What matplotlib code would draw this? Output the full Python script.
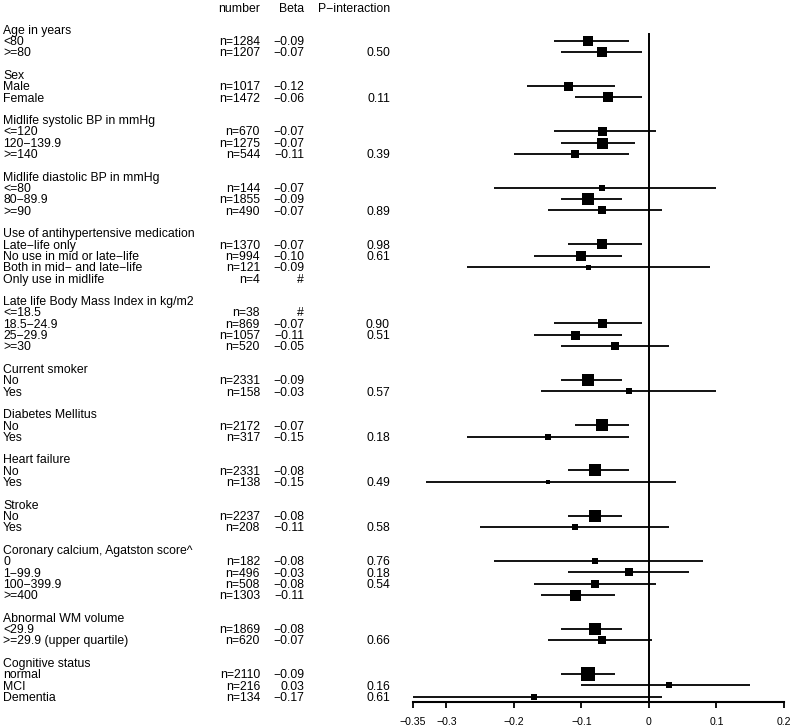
import matplotlib
matplotlib.use("Agg")
import matplotlib.pyplot as plt
from matplotlib import transforms

plt.rcParams['font.family'] = ['Liberation Sans', 'DejaVu Sans']

M = "\u2212"

labels = [
    "Age in years", "<80", ">=80", "",
    "Sex", "Male", "Female", "",
    "Midlife systolic BP in mmHg", "<=120", "120-139.9", ">=140", "",
    "Midlife diastolic BP in mmHg", "<=80", "80-89.9", ">=90", "",
    "Use of antihypertensive medication", "Late-life only", "No use in mid or late-life",
    "Both in mid- and late-life", "Only use in midlife", "",
    "Late life Body Mass Index in kg/m2", "<=18.5", "18.5-24.9", "25-29.9", ">=30", "",
    "Current smoker", "No", "Yes", "",
    "Diabetes Mellitus", "No", "Yes", "",
    "Heart failure", "No", "Yes", "",
    "Stroke", "No", "Yes", "",
    "Coronary calcium, Agatston score^", "0", "1-99.9", "100-399.9", ">=400", "",
    "Abnormal WM volume", "<29.9", ">=29.9 (upper quartile)", "",
    "Cognitive status", "normal", "MCI", "Dementia",
]

numbers = [
    "", "1284", "1207", "",
    "", "1017", "1472", "",
    "", "670", "1275", "544", "",
    "", "144", "1855", "490", "",
    "", "1370", "994", "121", "4", "",
    "", "38", "869", "1057", "520", "",
    "", "2331", "158", "",
    "", "2172", "317", "",
    "", "2331", "138", "",
    "", "2237", "208", "",
    "", "182", "496", "508", "1303", "",
    "", "1869", "620", "",
    "", "2110", "216", "134",
]

beta_text = [
    "", "-0.09", "-0.07", "",
    "", "-0.12", "-0.06", "",
    "", "-0.07", "-0.07", "-0.11", "",
    "", "-0.07", "-0.09", "-0.07", "",
    "", "-0.07", "-0.10", "-0.09", "#", "",
    "", "#", "-0.07", "-0.11", "-0.05", "",
    "", "-0.09", "-0.03", "",
    "", "-0.07", "-0.15", "",
    "", "-0.08", "-0.15", "",
    "", "-0.08", "-0.11", "",
    "", "-0.08", "-0.03", "-0.08", "-0.11", "",
    "", "-0.08", "-0.07", "",
    "", "-0.09", "0.03", "-0.17",
]

p_interaction = [
    "", "", "0.50", "",
    "", "", "0.11", "",
    "", "", "", "0.39", "",
    "", "", "", "0.89", "",
    "", "0.98", "0.61", "", "", "",
    "", "", "0.90", "0.51", "", "",
    "", "", "0.57", "",
    "", "", "0.18", "",
    "", "", "0.49", "",
    "", "", "0.58", "",
    "", "0.76", "0.18", "0.54", "", "",
    "", "", "0.66", "",
    "", "", "0.16", "0.61",
]

N = None
estimate = [
    N, -0.09, -0.07, N,
    N, -0.12, -0.06, N,
    N, -0.07, -0.07, -0.11, N,
    N, -0.07, -0.09, -0.07, N,
    N, -0.07, -0.10, -0.09, N, N,
    N, N, -0.07, -0.11, -0.05, N,
    N, -0.09, -0.03, N,
    N, -0.07, -0.15, N,
    N, -0.08, -0.15, N,
    N, -0.08, -0.11, N,
    N, -0.08, -0.03, -0.08, -0.11, N,
    N, -0.08, -0.07, N,
    N, -0.09, 0.03, -0.17,
]
ci_low = [
    N, -0.14, -0.13, N,
    N, -0.18, -0.11, N,
    N, -0.14, -0.13, -0.20, N,
    N, -0.23, -0.13, -0.15, N,
    N, -0.12, -0.17, -0.27, N, N,
    N, N, -0.14, -0.17, -0.13, N,
    N, -0.13, -0.16, N,
    N, -0.11, -0.27, N,
    N, -0.12, -0.33, N,
    N, -0.12, -0.25, N,
    N, -0.23, -0.12, -0.17, -0.16, N,
    N, -0.13, -0.15, N,
    N, -0.13, -0.10, -0.35,
]
ci_high = [
    N, -0.03, -0.01, N,
    N, -0.05, -0.01, N,
    N, 0.01, -0.02, -0.03, N,
    N, 0.10, -0.04, 0.02, N,
    N, -0.01, -0.04, 0.09, N, N,
    N, N, -0.01, -0.04, 0.03, N,
    N, -0.04, 0.10, N,
    N, -0.03, -0.03, N,
    N, -0.03, 0.04, N,
    N, -0.04, 0.03, N,
    N, 0.08, 0.06, 0.01, -0.05, N,
    N, -0.04, 0.005, N,
    N, -0.05, 0.15, 0.02,
]
# relative box size (weight) in pixels
box_px = [
    N, 9.3, 9.3, N,
    N, 9.0, 10.7, N,
    N, 9.0, 11.0, 8.3, N,
    N, 5.7, 11.7, 7.3, N,
    N, 10.7, 9.3, 5.0, N, N,
    N, N, 9.0, 9.0, 8.3, N,
    N, 11.7, 6.7, N,
    N, 12.7, 6.3, N,
    N, 11.7, 4.7, N,
    N, 12.7, 6.3, N,
    N, 5.3, 7.7, 7.3, 11.0, N,
    N, 11.7, 8.7, N,
    N, 13.3, 6.7, 6.0,
]
xticks = [-0.35, -0.3, -0.2, -0.1, 0, 0.1, 0.2]
xtick_labels = ["-0.35", "-0.3", "-0.2", "-0.1", "0", "0.1", "0.2"]

W, H = 795, 727
fig = plt.figure(figsize=(W / 100, H / 100), dpi=100)

row0_px = 29.4
row_h = 11.31
axis_px = 701.5
ylim_bottom = (axis_px - row0_px) / row_h
ylim_top = (0 - row0_px) / row_h

ax = fig.add_axes([412.7 / W, (H - axis_px) / H, (784.0 - 412.7) / W, axis_px / H])
ax.set_xlim(-0.35, 0.2)
ax.set_ylim(ylim_bottom, ylim_top)
for s in ["top", "right", "left"]:
    ax.spines[s].set_visible(False)
ax.spines["bottom"].set_linewidth(1.5)
ax.spines["bottom"].set_bounds(-0.35, 0.2)
ax.set_yticks([])
ax.set_xticks(xticks)
ax.set_xticklabels([t.replace("-", M) for t in xtick_labels], fontsize=7.6)
ax.tick_params(axis="x", length=4, width=1.3, pad=7)

# zero line
ax.plot([0, 0], [(34 - row0_px) / row_h, ylim_bottom], color="black", lw=1.4,
        clip_on=False, zorder=1)

# CI lines and boxes
for i, (e, lo, hi, b) in enumerate(zip(estimate, ci_low, ci_high, box_px)):
    if e is None:
        continue
    ax.plot([lo, hi], [i, i], color="black", lw=1.3, solid_capstyle="butt", clip_on=False, zorder=2)
    side_pt = b * 72 / 100
    ax.scatter([e], [i], marker="s", s=side_pt ** 2, color="black", linewidths=0, zorder=3, clip_on=False)

tr = transforms.blended_transform_factory(fig.transFigure, ax.transData)
fs = 8.8
base_off = 4.3 / row_h  # baseline offset below row centre


def fx(px):
    return px / W


header_y = (11.5 - row0_px) / row_h
ax.text(fx(260), header_y, "number", ha="right", va="baseline", fontsize=fs, transform=tr)
ax.text(fx(304), header_y, "Beta", ha="right", va="baseline", fontsize=fs, transform=tr)
ax.text(fx(390), header_y, "P" + M + "interaction", ha="right", va="baseline", fontsize=fs, transform=tr)

for i in range(len(labels)):
    y = i + base_off
    if labels[i]:
        ax.text(fx(3), y, labels[i].replace("-", M), ha="left", va="baseline", fontsize=fs, transform=tr)
    if numbers[i]:
        ax.text(fx(260), y, "n=" + numbers[i], ha="right", va="baseline", fontsize=fs, transform=tr)
    if beta_text[i]:
        ax.text(fx(304), y, beta_text[i].replace("-", M), ha="right", va="baseline", fontsize=fs, transform=tr)
    if p_interaction[i]:
        ax.text(fx(390), y, p_interaction[i], ha="right", va="baseline", fontsize=fs, transform=tr)

fig.savefig("out.png", dpi=100)
